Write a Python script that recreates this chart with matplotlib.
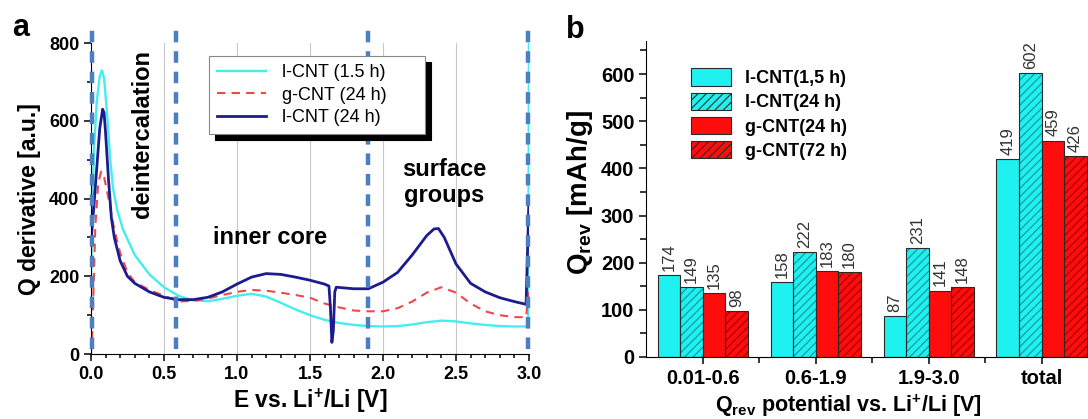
import matplotlib.pyplot as plt
import numpy as np

plt.rcParams['font.family'] = ['Liberation Sans', 'DejaVu Sans']
plt.rcParams['mathtext.fontset'] = 'custom'
plt.rcParams['mathtext.rm'] = 'Liberation Sans:bold'
plt.rcParams['mathtext.bf'] = 'Liberation Sans:bold'
plt.rcParams['mathtext.default'] = 'rm'
plt.rcParams['hatch.linewidth'] = 0.8

# ---- panel a: dQ/dE curves ----
x_cyan = [0.0, 0.02, 0.04, 0.06, 0.075, 0.09, 0.11, 0.13, 0.15, 0.18, 0.22, 0.3, 0.4, 0.5,
          0.6, 0.7, 0.8, 0.9, 1.0, 1.1, 1.2, 1.3, 1.4, 1.5, 1.6, 1.7, 1.8, 1.9, 2.0, 2.1,
          2.2, 2.3, 2.4, 2.5, 2.6, 2.7, 2.8, 2.9, 2.995, 3.0]
y_cyan = [200, 520, 650, 715, 730, 710, 620, 510, 430, 370, 320, 255, 205, 172,
          150, 138, 136, 142, 150, 155, 148, 132, 115, 100, 88, 80, 75, 72, 71, 72,
          76, 82, 86, 84, 79, 75, 72, 71, 71, 820]

x_red = [0.0, 0.01, 0.02, 0.03, 0.05, 0.07, 0.09, 0.11, 0.13, 0.16, 0.2, 0.25, 0.3, 0.4,
         0.5, 0.6, 0.7, 0.8, 0.9, 1.0, 1.1, 1.2, 1.3, 1.4, 1.5, 1.6, 1.7, 1.8, 1.9, 2.0,
         2.1, 2.2, 2.3, 2.4, 2.5, 2.6, 2.7, 2.8, 2.9, 2.98, 3.0]
y_red = [0, 60, 200, 330, 440, 470, 455, 420, 380, 320, 260, 210, 185, 165,
         150, 135, 137, 143, 152, 160, 165, 163, 158, 152, 145, 130, 120, 112, 110, 110,
         118, 135, 158, 172, 158, 130, 110, 100, 95, 95, 165]

x_blue = [0.0, 0.02, 0.04, 0.06, 0.08, 0.09, 0.1, 0.12, 0.14, 0.16, 0.2, 0.25, 0.3, 0.4,
          0.5, 0.6, 0.7, 0.8, 0.9, 1.0, 1.1, 1.2, 1.3, 1.4, 1.5, 1.6, 1.63, 1.64, 1.65,
          1.66, 1.67, 1.68, 1.8, 1.9, 2.0, 2.1, 2.2, 2.3, 2.35, 2.38, 2.42, 2.5, 2.6,
          2.7, 2.8, 2.9, 2.98, 3.0]
y_blue = [290, 380, 480, 580, 630, 620, 570, 450, 350, 300, 240, 200, 182, 160,
          146, 140, 140, 146, 160, 180, 198, 207, 205, 198, 190, 180, 175, 120, 30,
          60, 160, 172, 168, 168, 185, 210, 255, 305, 322, 323, 300, 232, 182,
          160, 145, 135, 128, 400]

region_edges = [0.01, 0.58, 1.9, 2.99]

# ---- panel b: reversible capacity per potential range ----
categories = ['0.01-0.6', '0.6-1.9', '1.9-3.0', 'total']
series_names = ['l-CNT(1,5 h)', 'l-CNT(24 h)', 'g-CNT(24 h)', 'g-CNT(72 h)']
q_rev = [
    [174, 158, 87, 419],
    [149, 222, 231, 602],
    [135, 183, 141, 459],
    [98, 180, 148, 426],
]

fig = plt.figure(figsize=(10.88, 4.19), dpi=100)

# ================= a =================
ax = fig.add_axes([0.0836, 0.155, 0.4026, 0.742])
ax.plot(x_cyan, y_cyan, color='#45eeee', lw=1.7, label='l-CNT (1.5 h)')
ax.plot(x_red, y_red, color='#f04848', lw=1.5, ls=(0, (4, 3)), label='g-CNT (24 h)')
ax.plot(x_blue, y_blue, color='#1c1c8e', lw=2.0, label='l-CNT (24 h)')

ax.vlines(region_edges, 12, 835, colors='#4b7fc0', lw=3.2,
          linestyles=(0, (2.6, 2.0)), clip_on=False, zorder=5)

ax.set_xlim(0, 3.0)
ax.set_ylim(0, 800)
ax.set_xticks(np.arange(0, 3.01, 0.5))
ax.set_xticks(np.arange(0, 3.01, 0.1), minor=True)
ax.set_yticks(np.arange(0, 801, 200))
ax.set_yticks(np.arange(0, 801, 100), minor=True)
ax.xaxis.set_major_formatter(plt.FormatStrFormatter('%.1f'))
ax.grid(axis='x', color='#c8c8c8', lw=0.8)
ax.set_axisbelow(True)
for s in ['top', 'right']:
    ax.spines[s].set_visible(False)
ax.tick_params(which='both', direction='out', width=1.1)
ax.tick_params(which='major', length=5, labelsize=13)
ax.tick_params(which='minor', length=3)
for lab in ax.get_xticklabels() + ax.get_yticklabels():
    lab.set_fontweight('bold')
ax.set_xlabel('E vs. Li$^{+}$/Li [V]', fontsize=16.5, fontweight='bold', labelpad=3)
ax.set_ylabel('Q derivative [a.u.]', fontsize=16.5, fontweight='bold', labelpad=6)

ax.text(0.35, 566, 'deintercalation', rotation=90, fontsize=17, fontweight='bold',
        ha='center', va='center')
ax.text(1.23, 300, 'inner core', fontsize=17, fontweight='bold', ha='center', va='center')
ax.text(2.42, 442, 'surface\ngroups', fontsize=17, fontweight='bold', ha='center',
        va='center', linespacing=1.15)

leg = ax.legend(loc='upper left', bbox_to_anchor=(0.27, 0.70, 0.493, 0.258),
                mode='expand', fontsize=13,
                handlelength=2.7, handletextpad=0.9, borderpad=0.45, labelspacing=0.3,
                borderaxespad=0, fancybox=False, edgecolor='#888888', framealpha=1,
                shadow={'color': 'black', 'alpha': 1, 'ox': 4, 'oy': -4})
leg.get_frame().set_linewidth(0.8)

fig.text(0.011, 0.97, 'a', fontsize=22, fontweight='bold', va='top')

# ================= b =================
bx = fig.add_axes([0.594, 0.148, 0.406, 0.754])
pos = np.arange(1, len(categories) + 1)
w = 0.2
faces = ['#1ff0f0', '#1ff0f0', '#ff0c0c', '#ff0c0c']
hatch_cols = ['#1a8f99', '#1a8f99', '#a00000', '#a00000']
hatches = ['', '////', '', '////']
handles = []
for i in range(4):
    xs = pos + (i - 1.5) * w
    bx.bar(xs, q_rev[i], w, color=faces[i], edgecolor=hatch_cols[i], hatch=hatches[i],
           lw=0, zorder=2)
    bars = bx.bar(xs, q_rev[i], w, facecolor='none', edgecolor='#2a2a2a', lw=0.8, zorder=3)
    bx.bar_label(bars, labels=[str(v) for v in q_rev[i]], rotation=90, padding=3,
                 fontsize=12, color='#333333')
    handles.append(plt.Rectangle((0, 0), 1, 1, facecolor=faces[i], edgecolor='#2a2a2a',
                                 hatch=hatches[i], lw=0.8))

bx.set_xlim(0.5, 4.41)
bx.set_ylim(0, 670)
bx.set_xticks(pos)
bx.set_xticklabels(categories)
bx.set_xticks([1.5, 2.5, 3.5], minor=True)
bx.set_yticks(np.arange(0, 601, 100))
bx.set_yticks(np.arange(50, 670, 100), minor=True)
for s in ['top', 'right']:
    bx.spines[s].set_visible(False)
bx.tick_params(which='both', direction='out', width=1.1)
bx.tick_params(which='major', length=5, labelsize=14.5)
bx.tick_params(which='minor', length=4)
bx.tick_params(axis='x', which='major', pad=4)
for lab in bx.get_xticklabels() + bx.get_yticklabels():
    lab.set_fontweight('bold')
bx.set_xlabel('Q$_{rev}$ potential vs. Li$^{+}$/Li [V]', fontsize=15.5, fontweight='bold',
              labelpad=0)
bx.xaxis.set_label_coords(0.457, -0.112)
bx.xaxis.label.set_va('top')
bx.set_ylabel('Q$_{rev}$ [mAh/g]', fontsize=20, fontweight='bold')
bx.yaxis.set_label_coords(-0.115, 0.52)

bleg = bx.legend(handles, series_names, loc='upper left', bbox_to_anchor=(0.065, 0.965),
                 frameon=False, prop={'size': 13, 'weight': 'bold'},
                 handlelength=2.2, handleheight=1.1, handletextpad=0.8, labelspacing=0.3)

fig.text(0.52, 0.965, 'b', fontsize=22, fontweight='bold', va='top')

fig.savefig('out.png', dpi=100)
